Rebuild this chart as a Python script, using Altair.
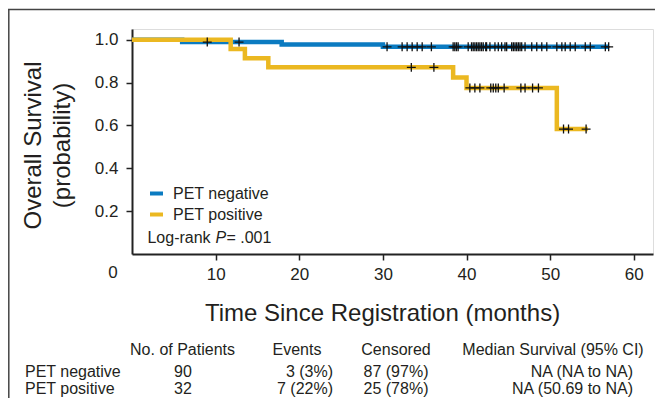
import altair as alt
import pandas as pd

# ---------------- data ----------------
groups = ["PET negative", "PET positive"]
colors = ["#0b7bc1", "#ebb821"]

# Kaplan-Meier step points (time in months, survival probability)
neg_times = [0.0, 6.0, 17.9, 30.0]
neg_surv = [1.0, 0.989, 0.978, 0.967]
neg_end = 57.0
neg_censor = [9.0, 12.8, 30.5, 32.3, 32.9, 33.5, 34.1, 34.7, 35.8, 38.4, 38.6,
              38.8, 39.0, 40.2, 40.6, 40.8, 41.0, 41.2, 41.4, 41.6, 41.8, 42.0,
              42.3, 42.4, 42.8, 43.4, 43.8, 44.2, 44.6, 44.8, 45.4, 45.6, 45.8,
              46.0, 46.2, 46.4, 46.6, 47.0, 47.8, 48.4, 49.0, 49.6, 50.8, 51.4,
              51.8, 52.4, 53.0, 54.2, 54.8, 56.6, 57.0]

pos_times = [0.0, 11.8, 13.5, 16.3, 38.4, 40.0, 50.8]
pos_surv = [1.0, 0.957, 0.914, 0.871, 0.824, 0.775, 0.583]
pos_end = 54.5
pos_censor = [33.4, 36.1, 40.4, 41.0, 41.6, 42.9, 43.2, 43.5, 43.8, 44.5,
              46.5, 47.0, 47.9, 48.6, 51.6, 52.2, 54.3]

x_ticks = [10, 20, 30, 40, 50, 60]
y_ticks = [0.2, 0.4, 0.6, 0.8, 1.0]

table_header = ["No. of Patients", "Events", "Censored", "Median Survival (95% CI)"]
table_rows = ["PET negative", "PET positive"]
table_patients = ["90", "32"]
table_events = ["3 (3%)", "7 (22%)"]
table_censored = ["87 (97%)", "25 (78%)"]
table_median = ["NA (NA to NA)", "NA (50.69 to NA)"]

x_title = "Time Since Registration (months)"
y_title = ["Overall Survival", "(probability)"]

# ---------------- build tables ----------------
def step_rows(name, times, surv, end):
    rows = [{"group": name, "time": t, "surv": s} for t, s in zip(times, surv)]
    rows.append({"group": name, "time": end, "surv": surv[-1]})
    return rows

def level_at(times, surv, t):
    lvl = surv[0]
    for tt, ss in zip(times, surv):
        if tt <= t:
            lvl = ss
    return lvl

lines_df = pd.DataFrame(step_rows(groups[0], neg_times, neg_surv, neg_end)
                        + step_rows(groups[1], pos_times, pos_surv, pos_end))
cens_df = pd.DataFrame(
    [{"group": groups[0], "time": t, "surv": level_at(neg_times, neg_surv, t)} for t in neg_censor]
    + [{"group": groups[1], "time": t, "surv": level_at(pos_times, pos_surv, t)} for t in pos_censor]
)

FONT = "Liberation Sans"
INK = "#231f20"
X_DOM = [0, 62.3]
Y_DOM = [0, 1.05]
W, H = 521, 225

xs = alt.Scale(domain=X_DOM, nice=False, zero=False)
ys = alt.Scale(domain=Y_DOM, nice=False, zero=False)

x_axis = alt.Axis(values=x_ticks, grid=False, tickSize=6, labelPadding=6,
                  labelFontSize=17, labelFont=FONT, labelColor=INK,
                  domainColor="#222", domainWidth=2, tickColor="#222", tickWidth=1.5,
                  title=x_title, titleFont=FONT, titleFontSize=24, titleFontWeight="normal",
                  titleColor=INK, titleX=250, titleY=59, titleAlign="center",
                  titleBaseline="middle")
y_axis = alt.Axis(values=y_ticks, format=".1f", grid=False, tickSize=6, labelPadding=8,
                  labelFontSize=17, labelFont=FONT, labelColor=INK,
                  domainColor="#222", domainWidth=2, tickColor="#222", tickWidth=1.5,
                  title=y_title, titleFont=FONT, titleFontSize=24, titleFontWeight="normal",
                  titleColor=INK, titleAngle=270, titleX=-99, titleY=116, titleAlign="center",
                  titleBaseline="middle", titleLineHeight=29)

color = alt.Color("group:N", scale=alt.Scale(domain=groups, range=colors),
                  legend=alt.Legend(orient="none", legendX=16, legendY=156, title=None,
                                    symbolType="stroke", symbolSize=169, symbolStrokeWidth=4,
                                    labelFontSize=16, labelFont=FONT, labelColor=INK,
                                    labelOffset=8, rowPadding=4, padding=0, labelLimit=300))

lines = alt.Chart(lines_df).mark_line(interpolate="step-after", strokeWidth=4.5,
                                      strokeCap="butt", strokeJoin="miter").encode(
    x=alt.X("time:Q", scale=xs, axis=x_axis),
    y=alt.Y("surv:Q", scale=ys, axis=y_axis),
    color=color,
    order=alt.Order("time:Q"),
)

plus = "M-1,0L1,0M0,-1L0,1"
cens = alt.Chart(cens_df).mark_point(shape=plus, size=80, filled=False, stroke="#111",
                                     strokeWidth=1.3, opacity=1).encode(
    x=alt.X("time:Q", scale=xs),
    y=alt.Y("surv:Q", scale=ys),
)

# "0" label on the x axis (left of the axis line, as in the reference)
zero_df = pd.DataFrame({"time": [0.0], "surv": [0.0], "t": ["0"]})
zero_lbl = alt.Chart(zero_df).mark_text(font=FONT, fontSize=17, color=INK, dx=-19, dy=19,
                                        align="center", baseline="middle").encode(
    x=alt.X("time:Q", scale=xs), y=alt.Y("surv:Q", scale=ys), text="t:N")

# Log-rank annotation
lr_df = pd.DataFrame({"time": [1.85], "surv": [0.075]})
def lr(txt, dx, style="normal"):
    return alt.Chart(lr_df).mark_text(text=txt, font=FONT, fontSize=16, color=INK, dx=dx,
                                      fontStyle=style, align="left", baseline="middle").encode(
        x=alt.X("time:Q", scale=xs), y=alt.Y("surv:Q", scale=ys))
logrank = lr("Log-rank", 0) + lr("P", 68, "italic") + lr("= .001", 79)

# summary table under the plot (page coordinates minus plot origin 132, 29)
OX, OY = 132, 29
hdr_y = 350 - OY
row_y = [372 - OY, 389 - OY]
def txt(s, x, y, align):
    return alt.Chart(pd.DataFrame({"t": [s]})).mark_text(
        font=FONT, fontSize=16, color=INK, align=align, baseline="middle").encode(
        text="t:N", x=alt.value(x), y=alt.value(y))

tbl = []
tbl.append(txt(table_header[0], 182.5 - OX, hdr_y, "center"))
tbl.append(txt(table_header[1], 297 - OX, hdr_y, "center"))
tbl.append(txt(table_header[2], 396 - OX, hdr_y, "center"))
tbl.append(txt(table_header[3], 553 - OX, hdr_y, "center"))
for i in range(2):
    tbl.append(txt(table_rows[i], 25 - OX, row_y[i], "left"))
    tbl.append(txt(table_patients[i], 183 - OX, row_y[i], "center"))
    tbl.append(txt(table_events[i], 333 - OX, row_y[i], "right"))
    tbl.append(txt(table_censored[i], 396 - OX, row_y[i], "center"))
    tbl.append(txt(table_median[i], 633 - OX, row_y[i], "right"))

# outer frame (left and top edges as in the reference)
PAD_B = 144
frame_left = alt.Chart(pd.DataFrame({"a": [0]})).mark_rule(color="#444", strokeWidth=1.5).encode(
    x=alt.value(-123.2), y=alt.value(-19.5), y2=alt.value(H + PAD_B))
frame_top = alt.Chart(pd.DataFrame({"a": [0]})).mark_rule(color="#444", strokeWidth=1.5).encode(
    x=alt.value(-124), x2=alt.value(W + 4), y=alt.value(-19.5))

chart = alt.layer(frame_left, frame_top, lines, cens, zero_lbl, logrank, *tbl).properties(
    width=W, height=H,
    autosize=alt.AutoSizeParams(type="none"),
    padding={"left": 124, "top": 21, "right": 2, "bottom": PAD_B},
).configure_view(stroke=None).configure(background="white")

chart.save("out.html", embed_options={"renderer": "svg", "actions": False})
